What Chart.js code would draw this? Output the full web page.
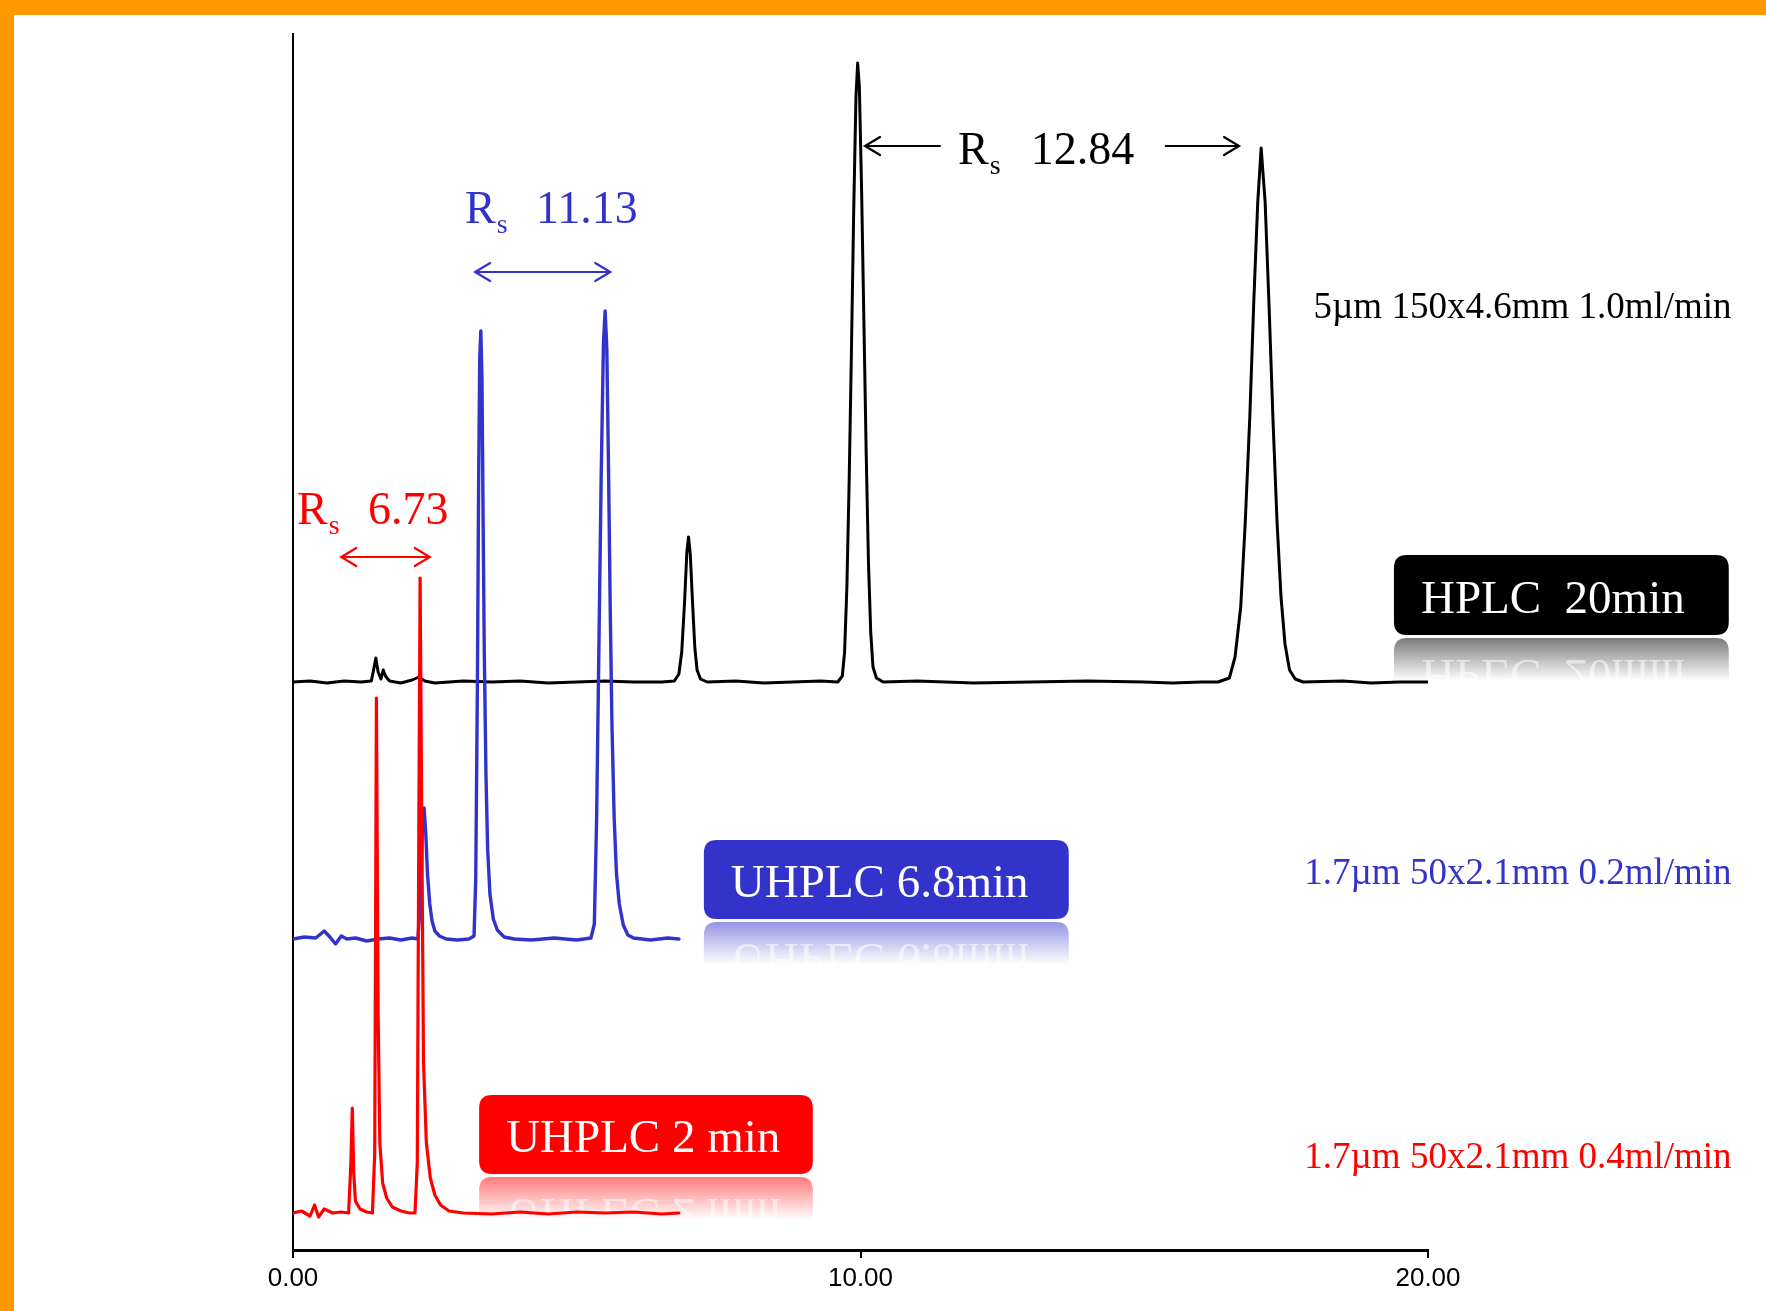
<!DOCTYPE html>
<html><head><meta charset="utf-8">
<script src="https://cdn.jsdelivr.net/npm/chart.js@4.4.1/dist/chart.umd.min.js"></script>
<style>html,body{margin:0;padding:0;background:#fff;overflow:hidden}#wrap{width:1766px;height:1311px;position:relative}</style>
</head><body><div id="wrap"><canvas id="c" width="1766" height="1311"></canvas></div>
<script>
// ---- Data (time in min, signal in arbitrary units) ----
const tickValues = [0, 10, 20];
const tickLabels = ["0.00", "10.00", "20.00"];

const offsetBlack = 568, offsetBlue = 311, offsetRed = 37;

const timeBlack = [0.00,0.30,0.60,0.90,1.20,1.38,1.42,1.46,1.50,1.55,1.59,1.63,1.70,1.90,2.10,2.22,2.32,2.50,3.00,3.50,4.00,4.50,5.00,5.50,6.00,6.50,6.72,6.80,6.85,6.90,6.94,6.97,7.00,7.04,7.08,7.12,7.18,7.30,7.80,8.30,8.80,9.30,9.60,9.68,9.72,9.76,9.80,9.84,9.88,9.92,9.95,9.98,10.02,10.06,10.10,10.14,10.18,10.22,10.28,10.40,11.00,12.00,13.00,14.00,15.00,15.50,16.00,16.30,16.50,16.60,16.70,16.78,16.86,16.93,17.00,17.06,17.13,17.20,17.27,17.34,17.41,17.48,17.56,17.66,17.80,18.50,19.00,19.50,20.00];
const sigBlack  = [0,1,-1,1,0,1,12,24,10,3,12,6,1,-1,2,5,1,-1,1,0,1,-1,0,1,0,0,1,8,30,80,130,145,128,80,35,12,3,0,1,-1,0,1,0,6,30,95,200,330,470,585,619,595,490,360,230,120,50,15,4,0,1,-1,0,1,0,-1,0,0,4,25,75,160,265,380,480,534,480,375,260,160,85,38,12,3,0,1,-1,0,0];

const timeBlue = [0.00,0.20,0.40,0.55,0.65,0.75,0.85,0.95,1.10,1.30,1.50,1.70,1.90,2.10,2.20,2.25,2.28,2.31,2.34,2.37,2.41,2.45,2.50,2.58,2.70,2.90,3.10,3.19,3.22,3.25,3.27,3.29,3.31,3.33,3.35,3.37,3.40,3.43,3.47,3.53,3.60,3.72,3.90,4.20,4.60,5.00,5.25,5.31,5.35,5.39,5.43,5.47,5.50,5.53,5.56,5.59,5.62,5.66,5.70,5.75,5.82,5.90,6.00,6.30,6.60,6.80];
const sigBlue  = [0,2,1,8,2,-5,3,0,1,-2,0,1,-1,1,0,40,110,131,105,65,35,18,8,3,0,-1,0,3,60,260,450,580,608,560,420,290,165,90,45,20,9,2,0,-1,1,-1,1,15,120,290,460,595,628,590,470,330,215,120,65,35,14,4,1,-1,1,0];

const timeRed = [0.00,0.15,0.30,0.38,0.45,0.55,0.70,0.85,0.98,1.02,1.045,1.07,1.10,1.18,1.30,1.40,1.44,1.47,1.50,1.53,1.58,1.65,1.75,1.90,2.05,2.15,2.19,2.22,2.24,2.27,2.30,2.35,2.42,2.50,2.60,2.75,3.00,3.50,4.00,4.50,5.00,5.50,6.00,6.50,6.80];
const sigRed  = [0,2,-3,8,-4,4,0,1,0,50,105,40,12,4,1,0,60,515,200,70,30,15,6,2,0,0,50,420,635,380,150,70,35,18,8,2,0,-1,1,-1,1,0,1,-1,0];

// ---- Labels ----
const boxLabels = ["HPLC  20min", "UHPLC 6.8min", "UHPLC 2 min"];
const boxColors = ["#000000", "#3333CC", "#FF0000"];
const boxLeft = [19.40, 7.24, 3.28];
const boxRight = [25.30, 13.67, 9.16];
const boxTop = [695, 410, 155];
const boxBottom = [615, 331, 76];

const condLabels = ["5\u00b5m 150x4.6mm 1.0ml/min", "1.7\u00b5m 50x2.1mm 0.2ml/min", "1.7\u00b5m 50x2.1mm 0.4ml/min"];
const condY = [932, 366, 82];
const condRight = 25.35;

const rsValues = ["12.84", "11.13", "6.73"];
const rsColors = ["#000000", "#3333CC", "#FF0000"];
const rsX = [11.72, 3.03, 0.07];
const rsNumX = [13.00, 4.28, 1.32];
const rsY = [1086, 1027, 726];

// arrows: [x0, x1, y, headLeft, headRight, colour]
const arrowSpecs = [
  [10.08, 11.40, 1104, true, false, "#000000"],
  [15.38, 16.67, 1104, false, true, "#000000"],
  [3.21, 5.59, 978, true, true, "#3333CC"],
  [0.85, 2.41, 693, true, true, "#FF0000"]
];

function pts(t, s, off) { return t.map((v, i) => ({x: v, y: s[i] + off})); }

function roundRect(ctx, x, y, w, h, r) {
  ctx.beginPath();
  ctx.moveTo(x + r, y);
  ctx.lineTo(x + w - r, y);
  ctx.quadraticCurveTo(x + w, y, x + w, y + r);
  ctx.lineTo(x + w, y + h - r);
  ctx.quadraticCurveTo(x + w, y + h, x + w - r, y + h);
  ctx.lineTo(x + r, y + h);
  ctx.quadraticCurveTo(x, y + h, x, y + h - r);
  ctx.lineTo(x, y + r);
  ctx.quadraticCurveTo(x, y, x + r, y);
  ctx.closePath();
}

const deco = {
  id: 'deco',
  beforeDraw(chart) {
    const ctx = chart.ctx;
    ctx.save();
    ctx.fillStyle = '#fff';
    ctx.fillRect(0, 0, chart.width, chart.height);
    ctx.fillStyle = '#FF9900';
    ctx.fillRect(0, 0, chart.width, 15);
    ctx.fillRect(0, 0, 14, chart.height);
    ctx.restore();
  },
  beforeDatasetsDraw(chart) {
    const ctx = chart.ctx, xs = chart.scales.x, ys = chart.scales.y;
    for (let i = 0; i < boxLabels.length; i++) {
      const x0 = xs.getPixelForValue(boxLeft[i]), x1 = xs.getPixelForValue(boxRight[i]);
      const y0 = ys.getPixelForValue(boxTop[i]), y1 = ys.getPixelForValue(boxBottom[i]);
      const w = x1 - x0, h = y1 - y0;
      const drawBox = () => {
        ctx.fillStyle = boxColors[i];
        roundRect(ctx, x0, y0, w, h, 13);
        ctx.fill();
        ctx.fillStyle = '#fff';
        ctx.font = '47px "Liberation Serif"';
        ctx.textBaseline = 'alphabetic';
        ctx.textAlign = 'left';
        ctx.fillText(boxLabels[i], x0 + 27, y1 - 22);
      };
      ctx.save();
      drawBox();
      ctx.restore();
      // reflection
      const g = 3, rh = 50;
      ctx.save();
      ctx.beginPath();
      ctx.rect(x0 - 2, y1 + g, w + 4, rh);
      ctx.clip();
      ctx.translate(0, 2 * y1 + g);
      ctx.scale(1, -1);
      ctx.globalAlpha = 0.55;
      drawBox();
      ctx.restore();
      ctx.save();
      const grad = ctx.createLinearGradient(0, y1 + g, 0, y1 + g + rh);
      grad.addColorStop(0, 'rgba(255,255,255,0.05)');
      grad.addColorStop(0.85, 'rgba(255,255,255,1)');
      grad.addColorStop(1, 'rgba(255,255,255,1)');
      ctx.fillStyle = grad;
      ctx.fillRect(x0 - 3, y1 + g, w + 6, rh + 1);
      ctx.restore();
    }
  },
  afterDraw(chart) {
    const ctx = chart.ctx, xs = chart.scales.x, ys = chart.scales.y;
    ctx.save();
    ctx.font = '37px "Liberation Serif"';
    ctx.textAlign = 'right';
    ctx.textBaseline = 'alphabetic';
    for (let i = 0; i < condLabels.length; i++) {
      ctx.fillStyle = boxColors[i];
      ctx.fillText(condLabels[i], xs.getPixelForValue(condRight), ys.getPixelForValue(condY[i]));
    }
    ctx.textAlign = 'left';
    for (let i = 0; i < rsValues.length; i++) {
      ctx.fillStyle = rsColors[i];
      const x = xs.getPixelForValue(rsX[i]), y = ys.getPixelForValue(rsY[i]);
      ctx.font = '46px "Liberation Serif"';
      ctx.fillText('R', x, y);
      const rw = ctx.measureText('R').width;
      ctx.font = '28px "Liberation Serif"';
      ctx.fillText('s', x + rw + 1, y + 10);
      ctx.font = '46px "Liberation Serif"';
      ctx.fillText(rsValues[i], xs.getPixelForValue(rsNumX[i]), y);
    }
    for (const a of arrowSpecs) {
      const x0 = xs.getPixelForValue(a[0]), x1 = xs.getPixelForValue(a[1]), y = ys.getPixelForValue(a[2]);
      ctx.strokeStyle = a[5];
      ctx.lineWidth = 2.2;
      ctx.lineCap = 'round';
      ctx.beginPath();
      ctx.moveTo(x0, y); ctx.lineTo(x1, y);
      if (a[3]) { ctx.moveTo(x0 + 15, y - 9); ctx.lineTo(x0, y); ctx.lineTo(x0 + 15, y + 9); }
      if (a[4]) { ctx.moveTo(x1 - 15, y - 9); ctx.lineTo(x1, y); ctx.lineTo(x1 - 15, y + 9); }
      ctx.stroke();
    }
    ctx.restore();
  }
};

new Chart(document.getElementById('c').getContext('2d'), {
  type: 'line',
  data: {
    datasets: [
      {label: 'UHPLC 2 min', data: pts(timeRed, sigRed, offsetRed), borderColor: '#FF0000', borderWidth: 3.2, order: 0},
      {label: 'UHPLC 6.8min', data: pts(timeBlue, sigBlue, offsetBlue), borderColor: '#3333CC', borderWidth: 3.4, order: 1},
      {label: 'HPLC 20min', data: pts(timeBlack, sigBlack, offsetBlack), borderColor: '#000000', borderWidth: 3, order: 2}
    ]
  },
  options: {
    responsive: false,
    animation: false,
    devicePixelRatio: 1,
    layout: {padding: {left: 293, right: 338, top: 34, bottom: 0}},
    elements: {point: {radius: 0}, line: {tension: 0, borderJoinStyle: 'round', borderCapStyle: 'round', fill: false}},
    plugins: {legend: {display: false}, tooltip: {enabled: false}},
    scales: {
      x: {
        type: 'linear', min: 0, max: 20,
        afterFit(s) { s.height = 61; },
        afterBuildTicks(s) { s.ticks = tickValues.map(v => ({value: v})); },
        ticks: {
          autoSkip: false, maxRotation: 0, padding: 5, color: '#000',
          font: {family: 'Liberation Sans', size: 26},
          callback: (v) => { const k = tickValues.indexOf(v); return k >= 0 ? tickLabels[k] : ''; }
        },
        grid: {display: true, drawOnChartArea: false, drawTicks: true, tickLength: 8, color: '#000', lineWidth: 2},
        border: {display: true, color: '#000', width: 3}
      },
      y: {
        type: 'linear', min: 0, max: 1216,
        afterFit(s) { s.width = 0; },
        ticks: {display: false},
        grid: {display: true, drawOnChartArea: false, drawTicks: false},
        border: {display: true, color: '#000', width: 2}
      }
    }
  },
  plugins: [deco]
});
</script></body></html>
